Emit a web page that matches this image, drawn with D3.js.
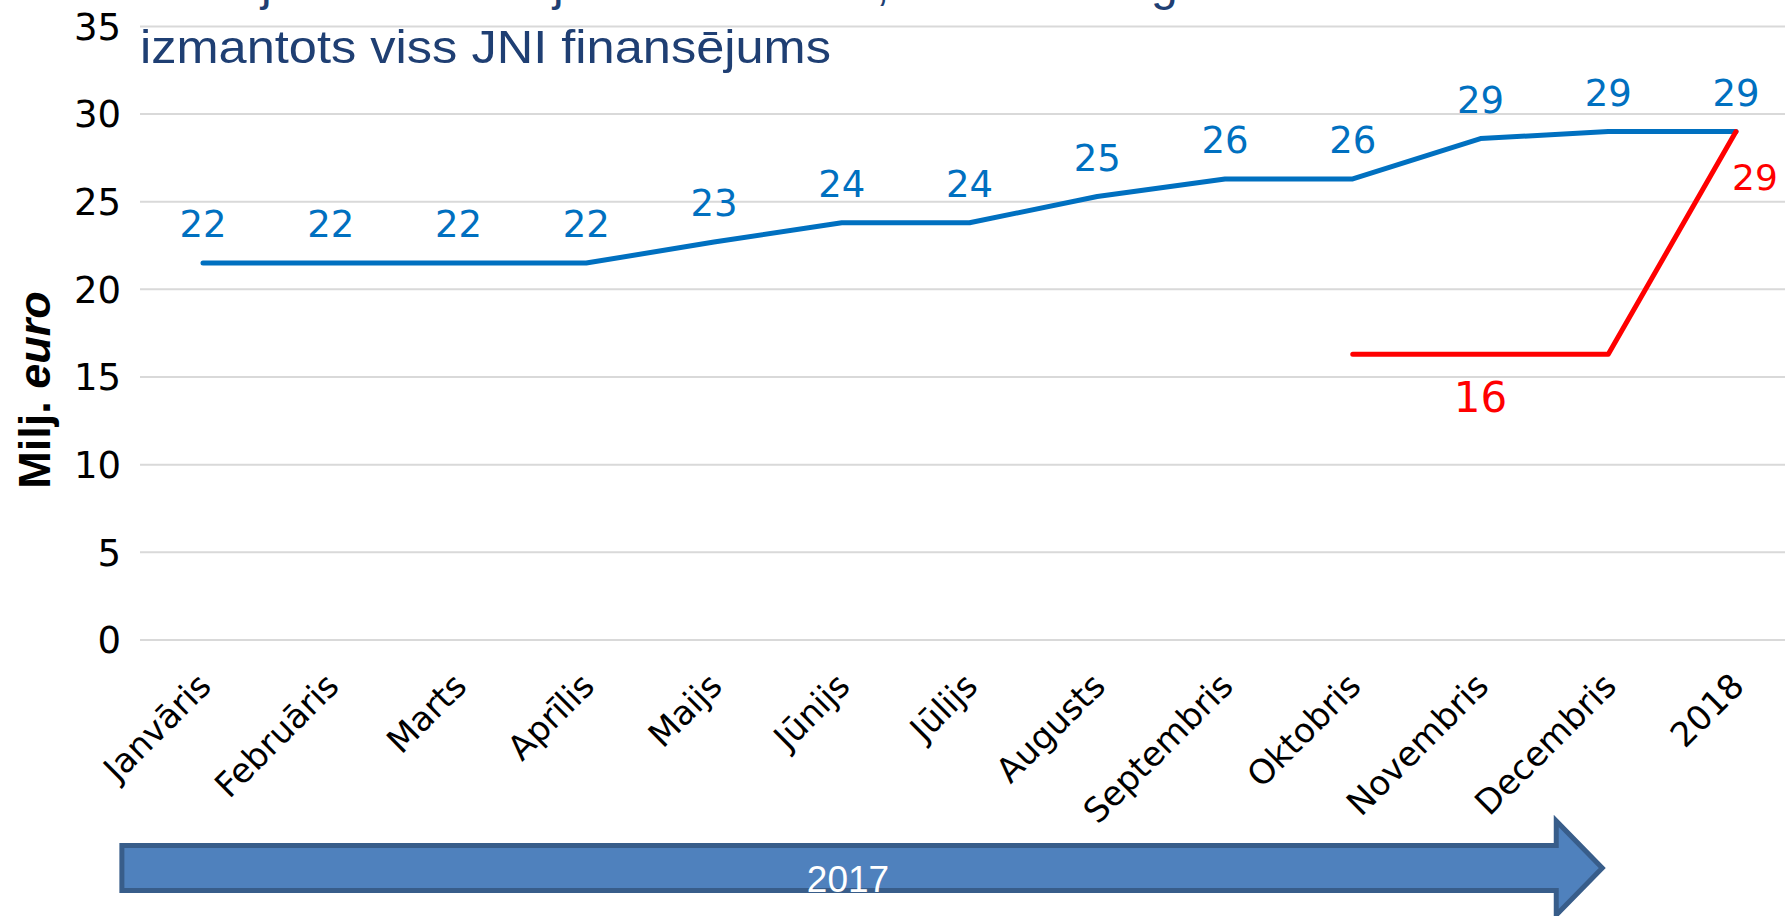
<!DOCTYPE html>
<html>
<head>
<meta charset="utf-8">
<script src="https://cdn.jsdelivr.net/npm/d3@7"></script>
<style>
  html, body { margin: 0; padding: 0; background: #ffffff; overflow: hidden; }
  svg { display: block; }
</style>
</head>
<body>
<svg id="chart" width="1785" height="916"></svg>
<script>
// ---- data ----
const categories = ["Janvāris", "Februāris", "Marts", "Aprīlis", "Maijs", "Jūnijs", "Jūlijs",
  "Augusts", "Septembris", "Oktobris", "Novembris", "Decembris", "2018"];
const plannedValues = [21.5, 21.5, 21.5, 21.5, 22.7, 23.8, 23.8, 25.3, 26.3, 26.3, 28.6, 29.0, 29.0];
const actualValues = [null, null, null, null, null, null, null, null, null, 16.3, 16.3, 16.3, 29.0];
const actualLabelCategories = ["Novembris", "2018"];
const yTickValues = [0, 5, 10, 15, 20, 25, 30, 35];
const titleLine = "izmantots viss JNI finansējums";
const titleCutGlyphs = [{ch: "j", x: 261}, {ch: "j", x: 553}, {ch: ",", x: 876}, {ch: "g", x: 1151}];
const yAxisTitle = ["Milj. ", "euro"];
const periodLabel = "2017";

// ---- layout ----
const svg = d3.select("#chart");
const W = 1785;
const x = d3.scalePoint().domain(categories).range([203, 1736]);
const y = d3.scaleLinear().domain([0, 35]).range([640, 26.4]);
const step = x.step();

const BLUE = "#0070c0", RED = "#ff0000";

// gridlines
svg.append("g").selectAll("line").data(yTickValues).join("line")
  .attr("x1", 140).attr("x2", W)
  .attr("y1", d => y(d)).attr("y2", d => y(d))
  .attr("stroke", "#d9d9d9").attr("stroke-width", 2);

// y tick labels
svg.append("g").selectAll("text").data(yTickValues).join("text")
  .attr("x", 121).attr("y", d => y(d)).attr("dy", "0.36em")
  .attr("text-anchor", "end")
  .attr("font-family", "DejaVu Sans").attr("font-size", 37).attr("fill", "#000")
  .text(d => d);

// y axis title
const yt = svg.append("text")
  .attr("transform", "translate(50,390) rotate(-90)")
  .attr("text-anchor", "middle")
  .attr("font-family", "Liberation Sans, Arial, sans-serif").attr("font-weight", "bold")
  .attr("font-size", 45).attr("fill", "#000");
yt.append("tspan").text(yAxisTitle[0]);
yt.append("tspan").attr("font-style", "italic").text(yAxisTitle[1]);

// title (cut-off first line and visible second line)
svg.append("g").selectAll("text").data(titleCutGlyphs).join("text")
  .attr("x", d => d.x).attr("y", 0)
  .attr("font-family", "Liberation Sans, Arial, sans-serif").attr("font-size", 48)
  .attr("fill", "#1f3f73").text(d => d.ch);
svg.append("text")
  .attr("x", 140).attr("y", 63)
  .attr("font-family", "Liberation Sans, Arial, sans-serif").attr("font-size", 47)
  .attr("fill", "#1f3f73")
  .attr("textLength", 691).attr("lengthAdjust", "spacingAndGlyphs")
  .text(titleLine);

// x axis labels
svg.append("g").selectAll("text").data(categories).join("text")
  .attr("transform", d => `translate(${x(d) + 10},688) rotate(-45)`)
  .attr("text-anchor", "end")
  .attr("font-family", "DejaVu Sans").attr("font-size", 34).attr("fill", "#000")
  .text(d => d);

// lines
const line = d3.line()
  .defined(d => d.v != null)
  .x(d => x(d.c)).y(d => y(d.v));
const plannedData = categories.map((c, i) => ({c, v: plannedValues[i]}));
const actualData = categories.map((c, i) => ({c, v: actualValues[i]}));

svg.append("path").datum(plannedData)
  .attr("d", line).attr("fill", "none").attr("stroke", BLUE)
  .attr("stroke-width", 5).attr("stroke-linecap", "round").attr("stroke-linejoin", "round");
svg.append("path").datum(actualData)
  .attr("d", line).attr("fill", "none").attr("stroke", RED)
  .attr("stroke-width", 5).attr("stroke-linecap", "round").attr("stroke-linejoin", "round");

// planned labels
svg.append("g").selectAll("text").data(plannedData).join("text")
  .attr("x", d => x(d.c)).attr("y", d => y(d.v) - 25.6)
  .attr("text-anchor", "middle")
  .attr("font-family", "DejaVu Sans").attr("font-size", 37).attr("fill", BLUE)
  .text(d => Math.round(d.v));

// actual labels
const actLab = actualData.filter(d => actualLabelCategories.includes(d.c));
svg.append("g").selectAll("text").data(actLab).join("text")
  .attr("x", d => d.c === "2018" ? x(d.c) - 4 : x(d.c))
  .attr("y", d => y(d.v) + 58)
  .attr("text-anchor", d => d.c === "2018" ? "start" : "middle")
  .attr("font-family", "DejaVu Sans")
  .attr("font-size", d => d.c === "2018" ? 36 : 42)
  .attr("fill", RED)
  .text(d => Math.round(d.v));

// period arrow (2017)
const ax0 = x(categories[0]) - 0.635 * step;
const axTip = x("Decembris") - 6;
const axHead = axTip - 46;
const cy = 868, bodyH = 22.5, headH = 47;
const arrowPts = [[ax0, cy - bodyH], [axHead, cy - bodyH], [axHead, cy - headH], [axTip, cy],
  [axHead, cy + headH], [axHead, cy + bodyH], [ax0, cy + bodyH]];
svg.append("path")
  .attr("d", d3.line()(arrowPts) + "Z")
  .attr("fill", "#4f81bd").attr("stroke", "#385d8a").attr("stroke-width", 5)
  .attr("stroke-linejoin", "miter");
svg.append("text")
  .attr("x", 848).attr("y", 892).attr("text-anchor", "middle")
  .attr("font-family", "Liberation Sans, Arial, sans-serif").attr("font-size", 37)
  .attr("fill", "#ffffff").text(periodLabel);
</script>
</body>
</html>
